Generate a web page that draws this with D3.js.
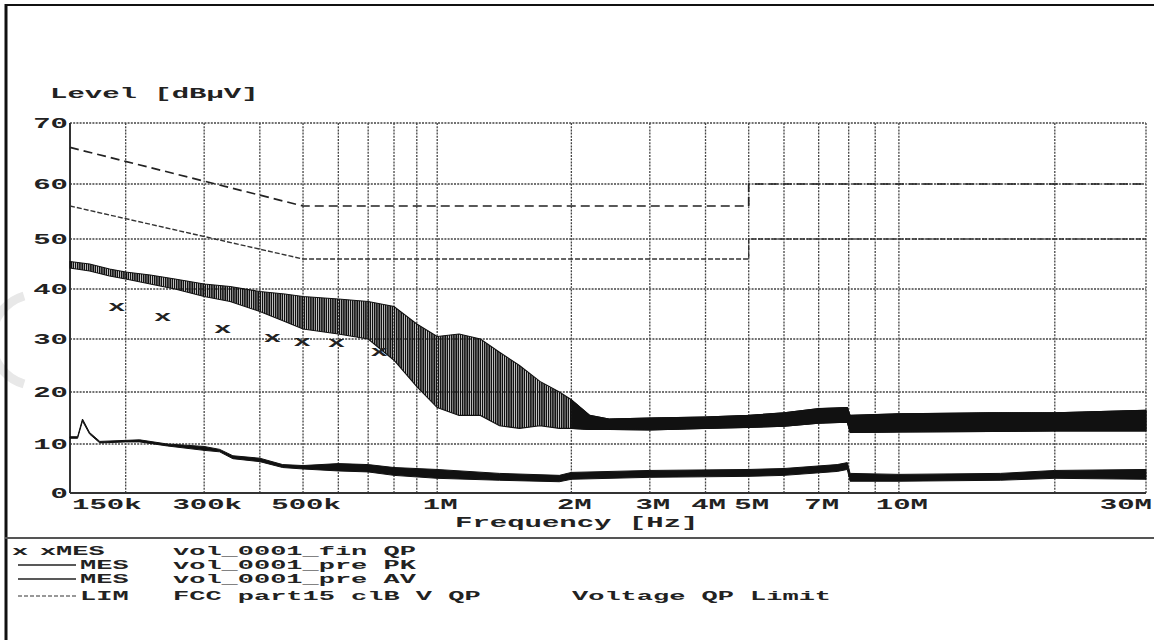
<!DOCTYPE html>
<html><head><meta charset="utf-8">
<script src="https://cdn.jsdelivr.net/npm/d3@7"></script>
<style>html,body{margin:0;padding:0;background:#fff;} svg{display:block;}</style>
</head><body>
<svg id="c" width="1154" height="640"></svg>
<script>
// ---------- data ----------
const yTickValues = [0, 10, 20, 30, 40, 50, 60, 70];
const xTickValues = [150e3, 300e3, 500e3, 1e6, 2e6, 3e6, 4e6, 5e6, 7e6, 10e6, 30e6];
const xTickLabels = ["150k", "300k", "500k", "1M", "2M", "3M", "4M", "5M", "7M", "10M", "30M"];
const xGridValues = [200e3, 300e3, 400e3, 500e3, 600e3, 700e3, 800e3, 900e3, 1e6,
  2e6, 3e6, 4e6, 5e6, 6e6, 7e6, 8e6, 9e6, 10e6, 20e6, 30e6];

// PK pre-scan (envelope of the dense trace)
const pkFreq = [150e3, 166e3, 184e3, 200e3, 227e3, 258e3, 300e3, 343e3, 400e3, 455e3, 500e3,
  600e3, 700e3, 800e3, 900e3, 1.0e6, 1.12e6, 1.25e6, 1.38e6, 1.53e6, 1.70e6, 1.88e6, 2.0e6,
  2.2e6, 2.43e6, 3e6, 4e6, 5e6, 6e6, 7e6, 7.95e6, 8.05e6, 10e6, 15e6, 20e6, 30e6];
const pkHigh = [45.5, 45, 44, 43.4, 42.8, 42, 41, 40.5, 39.5, 39, 38.5,
  38, 37.5, 36.5, 33, 30.5, 31, 30, 27.5, 25, 22, 20, 18.5,
  15.5, 14.8, 15, 15.2, 15.5, 16, 16.8, 17, 15.5, 15.8, 16, 16, 16.5];
const pkLow = [44.2, 43.6, 42.6, 42, 41, 40, 38.5, 37.5, 35.5, 33.5, 32,
  31, 30, 26, 21, 17, 15.5, 15.5, 13.5, 13, 13.5, 13, 13,
  12.8, 12.8, 12.7, 13, 13.2, 13.4, 14, 14.2, 12.2, 12.3, 12.4, 12.5, 12.5];

// AV pre-scan
const avFreq = [150e3, 156e3, 160e3, 166e3, 175e3, 200e3, 215e3, 248e3, 300e3, 325e3, 348e3,
  400e3, 450e3, 500e3, 600e3, 700e3, 800e3, 1e6, 1.38e6, 1.88e6, 2e6, 3e6, 5e6, 6e6,
  7.6e6, 7.95e6, 8.05e6, 10e6, 15.7e6, 20e6, 30e6];
const avHigh = [11.4, 11.4, 14.8, 12.2, 10.5, 10.7, 10.8, 10.0, 9.5, 8.9, 7.6,
  7.1, 5.8, 5.6, 6.0, 5.8, 5.2, 4.8, 4.0, 3.6, 4.2, 4.6, 4.8, 5.0,
  5.8, 6.2, 4.0, 3.8, 4.0, 4.6, 4.8];
const avLow = [11.1, 11.1, 14.4, 11.9, 10.2, 10.4, 10.4, 9.6, 8.7, 8.4, 7.0,
  6.4, 5.2, 4.9, 4.5, 4.3, 3.6, 3.0, 2.6, 2.3, 2.8, 3.2, 3.4, 3.6,
  4.4, 4.8, 2.4, 2.4, 2.6, 3.0, 2.8];

// QP final measurements
const qpFreq = [191e3, 242e3, 330e3, 427e3, 498e3, 594e3, 741e3];
const qpVal = [36.4, 34.4, 32.0, 30.2, 29.4, 29.2, 27.5];

// Limits
const limQpFreq = [150e3, 500e3, 5e6, 5e6, 30e6];
const limQpVal = [66, 56, 56, 60, 60];
const limAvFreq = [150e3, 500e3, 5e6, 5e6, 30e6];
const limAvVal = [56, 46, 46, 50, 50];

// Legend
const legendKinds = ["MES", "MES", "MES", "LIM"];
const legendNames = ["vol_0001_fin QP", "vol_0001_pre PK", "vol_0001_pre AV", "FCC part15 clB V QP"];
const legendExtra = ["", "", "", "Voltage QP Limit"];

// ---------- drawing ----------
const svg = d3.select("#c");
const SX = 2.0;
const FONT = "'Liberation Mono', 'Courier New', monospace";

const x = d3.scaleLog().domain([150e3, 6e6, 30e6]).range([70, 784, 1146]);
const y = d3.scaleLinear().domain(yTickValues).range([493, 444, 392, 339, 289, 239, 184, 123]);

function label(sel, px, py, txt, anchor) {
  return sel.append("text")
    .attr("transform", `translate(${px},${py}) scale(${SX},1)`)
    .attr("text-anchor", anchor || "start")
    .text(txt);
}

// hatch pattern that gives the dense PK sweep its texture
const defs = svg.append("defs");
const pat = defs.append("pattern").attr("id", "sweep").attr("patternUnits", "userSpaceOnUse")
  .attr("width", 2.2).attr("height", 10);
pat.append("rect").attr("x", 0).attr("y", 0).attr("width", 1.6).attr("height", 10).attr("fill", "#111");

// faint scan artefact at the left
svg.append("path").attr("d", "M 24 296 A 46 46 0 0 0 24 384")
  .attr("fill", "none").attr("stroke", "#e8e8e8").attr("stroke-width", 9);

// outer frame
svg.append("line").attr("x1", 6).attr("x2", 6).attr("y1", 4).attr("y2", 640)
  .attr("stroke", "#111").attr("stroke-width", 3);
svg.append("line").attr("x1", 5).attr("x2", 1154).attr("y1", 5).attr("y2", 5)
  .attr("stroke", "#111").attr("stroke-width", 2);

const [x0, x1] = [x(150e3), x(30e6)];
const [yb, yt] = [y(0), y(70)];

// grid
const grid = svg.append("g").attr("stroke", "#444").attr("stroke-width", 1.3)
  .attr("stroke-dasharray", "2,1.2").attr("fill", "none");
grid.selectAll("line.h").data(yTickValues.slice(1)).join("line")
  .attr("x1", x0).attr("x2", x1).attr("y1", d => y(d)).attr("y2", d => y(d));
grid.selectAll("line.v").data(xGridValues).join("line")
  .attr("x1", d => x(d)).attr("x2", d => x(d)).attr("y1", yt).attr("y2", yb);

// axes (left & bottom solid)
svg.append("line").attr("x1", x0).attr("x2", x0).attr("y1", yt).attr("y2", yb)
  .attr("stroke", "#333").attr("stroke-width", 2);
svg.append("line").attr("x1", x0).attr("x2", x1).attr("y1", yb).attr("y2", yb)
  .attr("stroke", "#333").attr("stroke-width", 2);

// limit lines
const lineGen = d3.line().x(d => x(d[0])).y(d => y(d[1]));
svg.append("path").attr("d", lineGen(d3.zip(limAvFreq, limAvVal)))
  .attr("fill", "none").attr("stroke", "#333").attr("stroke-width", 1.4)
  .attr("stroke-dasharray", "5,2");
svg.append("path").attr("d", lineGen(d3.zip(limQpFreq, limQpVal)))
  .attr("fill", "none").attr("stroke", "#222").attr("stroke-width", 1.7)
  .attr("stroke-dasharray", "9,5");

// PK and AV traces as envelopes
const areaGen = d3.area().x(d => x(d[0])).y0(d => y(d[1])).y1(d => y(d[2]));
const pkPts = d3.zip(pkFreq, pkLow, pkHigh);
svg.append("path").attr("d", areaGen(pkPts))
  .attr("fill", "url(#sweep)").attr("stroke", "#111").attr("stroke-width", 1.1);
svg.append("path").attr("d", areaGen(pkPts.filter(d => d[0] >= 2.0e6)))
  .attr("fill", "#111").attr("stroke", "#111").attr("stroke-width", 1);
svg.append("path").attr("d", areaGen(d3.zip(avFreq, avLow, avHigh)))
  .attr("fill", "#111").attr("stroke", "#111").attr("stroke-width", 1);

// text group
const tg = svg.append("g").attr("font-family", FONT).attr("font-size", 14.5)
  .attr("font-weight", "bold").attr("fill", "#222");

// QP markers
tg.selectAll("text.qp").data(d3.zip(qpFreq, qpVal)).join("text").attr("class", "qp")
  .attr("transform", d => `translate(${x(d[0])},${y(d[1]) + 4}) scale(${SX},1)`)
  .attr("text-anchor", "middle").text("x");

// axis labels
label(tg, 50, 98, "Level [dBµV]");
yTickValues.forEach(v => label(tg, 68, y(v) + 5, String(v), "end"));
xTickValues.forEach((v, i) => {
  let anchor = "middle", px = x(v) + 3;
  if (i === 0) { anchor = "start"; px = x(v) + 2; }
  if (i === xTickValues.length - 1) { anchor = "end"; px = x(v) + 6; }
  label(tg, px, 509, xTickLabels[i], anchor);
});
label(tg, 455, 527, "Frequency [Hz]");

// separator
svg.append("line").attr("x1", 5).attr("x2", 1154).attr("y1", 538).attr("y2", 538)
  .attr("stroke", "#555").attr("stroke-width", 2);

// legend
const rowY = [555, 569, 583, 600];
const lg = tg.append("g").attr("font-size", 13.5);
legendKinds.forEach((k, i) => {
  const cy = rowY[i] - 4;
  if (i === 0) {
    label(lg, 20, rowY[i], "x", "middle");
    label(lg, 48, rowY[i], "x", "middle");
    label(lg, 56, rowY[i], k);
  } else {
    svg.append("line").attr("x1", 18).attr("x2", 76).attr("y1", cy).attr("y2", cy)
      .attr("stroke", i === 3 ? "#777" : "#222").attr("stroke-width", 1.5)
      .attr("stroke-dasharray", i === 3 ? "4,2" : null);
    label(lg, 80, rowY[i], k);
  }
  label(lg, 173, rowY[i], legendNames[i]);
  if (legendExtra[i]) label(lg, 572, rowY[i], legendExtra[i]);
});
</script>
</body></html>
